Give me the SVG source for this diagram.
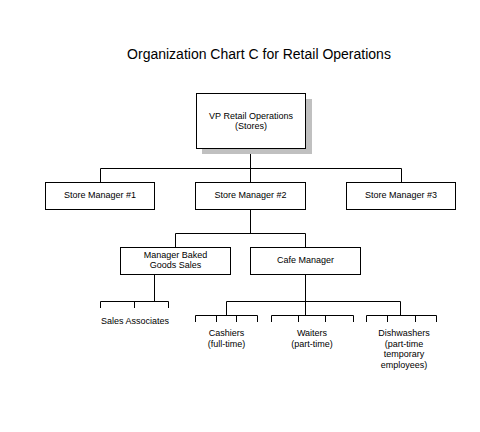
<svg xmlns="http://www.w3.org/2000/svg" width="480" height="432" viewBox="0 0 480 432">
<style>
.box{fill:#fff;stroke:#000;stroke-width:1}
.t{font-family:"Liberation Sans",Arial,sans-serif;font-size:9px;fill:#000;text-anchor:middle}
.title{font-family:"Liberation Sans",Arial,sans-serif;font-size:14px;fill:#000;text-anchor:middle}
.c{fill:none;stroke:#000;stroke-width:1}
</style>
<rect width="480" height="432" fill="#fff"/>
<text class="title" x="259" y="59">Organization Chart C for Retail Operations</text>
<g id="connectors">
<path class="c" d="M250.5 148V168.5M100.5 182V168.5H401.5V182M250.5 168.5V182"/>
<path class="c" d="M250.5 209.5V233.5M175.5 247.5V233.5H305.5V247.5"/>
<path class="c" d="M154.5 274.5V301.5M100.5 308V301.5H168.5V308M134.5 301.5V308"/>
<path class="c" d="M305.5 274.5V315.5M226.5 315.5V301.5H400.5V315.5"/>
<path class="c" d="M195.5 322V315.5H257.5V322M216.5 315.5V322M236.5 315.5V322"/>
<path class="c" d="M271.5 322V315.5H353.5V322M298.5 315.5V322M325.5 315.5V322"/>
<path class="c" d="M366.5 322V315.5H436.5V322M387.5 315.5V322M415.5 315.5V322"/>
</g>
<g id="vp">
<rect x="202" y="99" width="110" height="55" fill="#c0c0c0"/>
<rect class="box" x="196.5" y="93.5" width="109" height="55"/>
<text class="t" x="251" y="118.5">VP Retail Operations</text>
<text class="t" x="251" y="129">(Stores)</text>
</g>
<g id="sm1">
<rect class="box" x="45.5" y="182.5" width="109" height="27"/>
<text class="t" x="100" y="197.5">Store Manager #1</text>
</g>
<g id="sm2">
<rect class="box" x="195.5" y="182.5" width="110" height="27"/>
<text class="t" x="250.5" y="197.5">Store Manager #2</text>
</g>
<g id="sm3">
<rect class="box" x="346.5" y="182.5" width="109" height="27"/>
<text class="t" x="401" y="197.5">Store Manager #3</text>
</g>
<g id="mbgs">
<rect class="box" x="120.5" y="247.5" width="110" height="27"/>
<text class="t" x="175.5" y="257.5">Manager Baked</text>
<text class="t" x="175.5" y="268.3">Goods Sales</text>
</g>
<g id="cafe">
<rect class="box" x="250.5" y="247.5" width="110" height="27"/>
<text class="t" x="305.5" y="263">Cafe Manager</text>
</g>
<g id="sales">
<text class="t" x="135" y="324">Sales Associates</text>
</g>
<g id="cashiers">
<text class="t" x="226.5" y="336">Cashiers</text>
<text class="t" x="226.5" y="346.5">(full-time)</text>
</g>
<g id="waiters">
<text class="t" x="312" y="336">Waiters</text>
<text class="t" x="312" y="346.5">(part-time)</text>
</g>
<g id="dishwashers">
<text class="t" x="404" y="336">Dishwashers</text>
<text class="t" x="404" y="346.5">(part-time</text>
<text class="t" x="404" y="357">temporary</text>
<text class="t" x="404" y="367.5">employees)</text>
</g>
</svg>
